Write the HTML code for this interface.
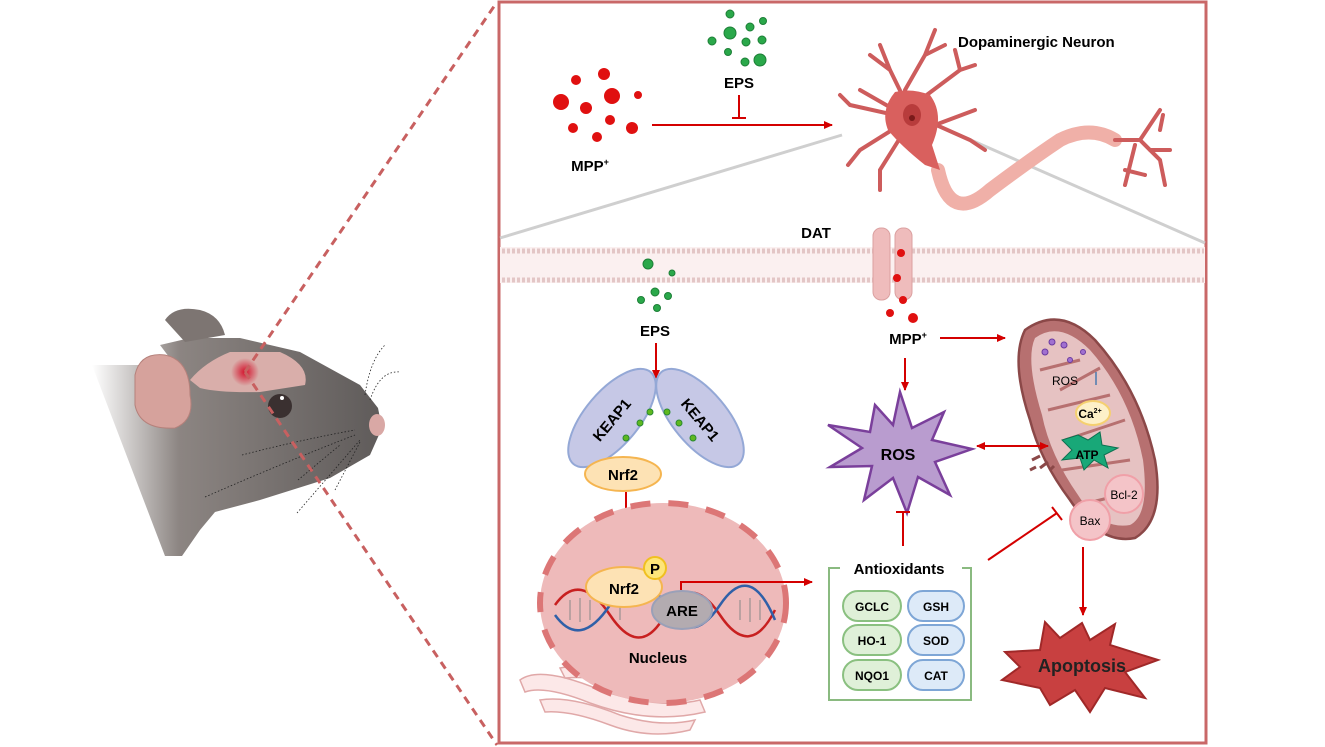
<!DOCTYPE html>
<html><head><meta charset="utf-8"><style>
body{margin:0;background:#fff}
svg{display:block;font-family:"Liberation Sans",Arial,sans-serif;font-weight:bold}
</style></head><body>
<svg width="1325" height="747" viewBox="0 0 1325 747" xmlns="http://www.w3.org/2000/svg">
<defs>
<marker id="ar" markerWidth="10" markerHeight="10" refX="8" refY="5" orient="auto" markerUnits="userSpaceOnUse"><path d="M0,1 L9,5 L0,9 z" fill="#d40000"/></marker>
<marker id="ar2" markerWidth="10" markerHeight="10" refX="1" refY="5" orient="auto" markerUnits="userSpaceOnUse"><path d="M9,1 L0,5 L9,9 z" fill="#d40000"/></marker>
<linearGradient id="fade" x1="0" x2="1" y1="0" y2="0"><stop offset="0" stop-color="#fff"/><stop offset="0.3" stop-color="#8c8582"/><stop offset="1" stop-color="#5f5b5a"/></linearGradient>
<radialGradient id="spot"><stop offset="0" stop-color="#d4102a"/><stop offset="1" stop-color="#d4102a" stop-opacity="0"/></radialGradient>
</defs>

<!-- mouse -->
<path d="M92,365 L175,365 L160,345 L190,338 L240,338 L300,352 L360,385 L378,408 L382,428 L370,455 L330,478 L260,500 L215,512 L200,530 L182,556 L165,556 Z" fill="url(#fade)"/>
<path d="M165,320 Q175,305 200,310 Q220,315 225,335 L185,342 Z" fill="#7d7572"/>
<path d="M135,375 Q140,352 165,355 Q190,360 190,395 Q195,420 175,428 Q140,430 135,405 Z" fill="#d6a29c" stroke="#b5817b"/>
<path d="M190,380 Q205,362 230,352 L280,352 Q310,365 305,385 L260,392 Q220,393 200,388 Z" fill="#d9aeaa"/>
<circle cx="245" cy="372" r="14" fill="url(#spot)"/>
<circle cx="280" cy="406" r="12" fill="#3a3030"/>
<circle cx="282" cy="398" r="2" fill="#fff"/>
<ellipse cx="377" cy="425" rx="8" ry="11" fill="#d9a8a5"/>
<g stroke="#222" stroke-width="0.8" stroke-dasharray="1.5,2" fill="none">
<path d="M242,455 Q300,440 355,430"/><path d="M205,497 Q290,460 355,435"/><path d="M298,480 L340,445"/><path d="M335,490 L360,442"/><path d="M297,513 L360,440"/>
<path d="M365,395 Q370,360 385,345"/><path d="M370,400 Q380,370 400,372"/>
</g>
<g stroke="#c86060" stroke-width="3" stroke-dasharray="8,6">
<line x1="245" y1="372" x2="497" y2="2"/><line x1="245" y1="372" x2="497" y2="745"/>
</g>

<!-- frame -->
<rect x="499" y="2" width="707" height="741" fill="none" stroke="#c96868" stroke-width="3"/>

<!-- gray zoom lines -->
<line x1="500" y1="238" x2="842" y2="135" stroke="#cfcfcf" stroke-width="3"/>
<line x1="930" y1="122" x2="1205" y2="243" stroke="#cfcfcf" stroke-width="3"/>

<!-- membrane -->
<rect x="500" y="247" width="705" height="36" fill="#fbf0f0"/>
<line x1="502" y1="251" x2="1204" y2="251" stroke="#e3c6c6" stroke-width="5" stroke-dasharray="3,2"/>
<line x1="502" y1="280" x2="1204" y2="280" stroke="#e3c6c6" stroke-width="5" stroke-dasharray="3,2"/>

<!-- MPP+ dots -->
<g fill="#e01010">
<circle cx="561" cy="102" r="8"/><circle cx="576" cy="80" r="5"/><circle cx="604" cy="74" r="6"/><circle cx="612" cy="96" r="8"/><circle cx="638" cy="95" r="4"/><circle cx="586" cy="108" r="6"/><circle cx="610" cy="120" r="5"/><circle cx="573" cy="128" r="5"/><circle cx="632" cy="128" r="6"/><circle cx="597" cy="137" r="5"/>
</g>
<text x="590" y="171" font-size="15" text-anchor="middle">MPP<tspan font-size="9" dy="-6">+</tspan></text>
<!-- EPS dots -->
<g fill="#2aa84a" stroke="#1d7f37">
<circle cx="730" cy="14" r="4"/><circle cx="750" cy="27" r="4"/><circle cx="763" cy="21" r="3.5"/><circle cx="730" cy="33" r="6"/><circle cx="712" cy="41" r="4"/><circle cx="746" cy="42" r="4"/><circle cx="762" cy="40" r="4"/><circle cx="728" cy="52" r="3.5"/><circle cx="745" cy="62" r="4"/><circle cx="760" cy="60" r="6"/>
</g>
<text x="739" y="88" font-size="15" text-anchor="middle">EPS</text>
<line x1="739" y1="95" x2="739" y2="118" stroke="#d40000" stroke-width="2"/>
<line x1="732" y1="118" x2="746" y2="118" stroke="#d40000" stroke-width="2"/>
<line x1="652" y1="125" x2="832" y2="125" stroke="#d40000" stroke-width="2" marker-end="url(#ar)"/>

<!-- neuron -->
<g stroke="#cd5c5c" stroke-linecap="round" fill="none">
<path d="M912,115 L890,70 L880,45 M890,70 L870,55 M905,90 L925,55 L935,30 M925,55 L945,45 M920,100 L960,70 L975,65 M960,70 L955,50 M925,120 L970,140 L985,150 M935,125 L975,110 M900,125 L860,150 L848,165 M895,115 L850,105 L840,95 M905,130 L880,170 L880,190 M895,110 L860,90" stroke-width="4"/>
<path d="M938,170 Q950,225 990,190 Q1030,160 1060,140 Q1090,125 1115,140" stroke-width="14" stroke="#f0b0a8"/>
<path d="M1115,140 L1140,140 L1160,110 M1140,140 L1160,160 L1165,185 M1135,145 L1125,185 M1150,150 L1170,150 M1125,170 L1145,175 M1160,130 L1163,115" stroke-width="4"/>
</g>
<path d="M895,92 Q912,88 930,95 Q945,115 932,145 L940,170 L925,165 Q900,145 888,130 Q880,110 895,92Z" fill="#d9605e"/>
<ellipse cx="912" cy="115" rx="9" ry="11" fill="#b83c3c"/>
<circle cx="912" cy="118" r="3" fill="#7a1a1a"/>
<text x="958" y="47" font-size="15">Dopaminergic Neuron</text>

<!-- DAT -->
<text x="816" y="238" font-size="15" text-anchor="middle">DAT</text>
<rect x="873" y="228" width="17" height="72" rx="8" fill="#efbcbc" stroke="#dba0a0"/>
<rect x="895" y="228" width="17" height="72" rx="8" fill="#efbcbc" stroke="#dba0a0"/>
<g fill="#e01010"><circle cx="901" cy="253" r="4"/><circle cx="897" cy="278" r="4"/><circle cx="903" cy="300" r="4"/><circle cx="890" cy="313" r="4"/><circle cx="913" cy="318" r="5"/></g>

<!-- EPS lower -->
<g fill="#2aa84a" stroke="#1d7f37">
<circle cx="648" cy="264" r="5"/><circle cx="672" cy="273" r="3"/><circle cx="655" cy="292" r="4"/><circle cx="668" cy="296" r="3.5"/><circle cx="641" cy="300" r="3.5"/><circle cx="657" cy="308" r="3.5"/>
</g>
<text x="655" y="336" font-size="15" text-anchor="middle">EPS</text>
<line x1="656" y1="343" x2="656" y2="378" stroke="#d40000" stroke-width="2" marker-end="url(#ar)"/>

<!-- KEAP1 -->
<ellipse cx="612" cy="418" rx="60" ry="27" transform="rotate(-50 612 418)" fill="#c6c8e6" stroke="#94a8d6" stroke-width="2"/>
<ellipse cx="700" cy="418" rx="60" ry="27" transform="rotate(50 700 418)" fill="#c6c8e6" stroke="#94a8d6" stroke-width="2"/>
<text font-size="15" transform="translate(612,420) rotate(-50)" text-anchor="middle" dy="5">KEAP1</text>
<text font-size="15" transform="translate(700,420) rotate(50)" text-anchor="middle" dy="5">KEAP1</text>
<g fill="#5fb820" stroke="#2a8a30"><circle cx="650" cy="412" r="3"/><circle cx="667" cy="412" r="3"/><circle cx="640" cy="423" r="3"/><circle cx="679" cy="423" r="3"/><circle cx="626" cy="438" r="3"/><circle cx="693" cy="438" r="3"/></g>
<ellipse cx="623" cy="474" rx="38" ry="17" fill="#fde2b4" stroke="#f5b550" stroke-width="2"/>
<text x="623" y="480" font-size="15" text-anchor="middle">Nrf2</text>
<line x1="626" y1="492" x2="626" y2="556" stroke="#d40000" stroke-width="2" marker-end="url(#ar)"/>

<!-- ER -->
<g fill="#fce8e8" stroke="#e0a8a8" stroke-width="1.5">
<path d="M520,680 Q540,665 600,690 Q660,710 700,700 L705,712 Q650,725 590,703 Q545,685 525,692Z"/>
<path d="M540,700 Q570,695 620,715 Q660,728 695,720 L690,730 Q650,740 610,725 Q570,710 545,712Z"/>
<path d="M560,668 Q600,660 650,680 L645,690 Q600,675 565,678Z"/>
</g>

<!-- nucleus -->
<ellipse cx="663" cy="603" rx="123" ry="100" fill="#eebaba" stroke="#dc7676" stroke-width="6" stroke-dasharray="20,18"/>
<g fill="none" stroke-width="2.5">
<path d="M555,605 Q580,570 610,615 T665,615 T720,615 T775,610" stroke="#c82020"/>
<path d="M555,615 Q580,650 610,605 T665,605 T720,605 T775,620" stroke="#3060a8"/>
</g>
<g stroke="#888" stroke-width="1">
<line x1="570" y1="600" x2="570" y2="620"/><line x1="580" y1="598" x2="580" y2="622"/><line x1="590" y1="600" x2="590" y2="620"/><line x1="620" y1="600" x2="620" y2="620"/><line x1="740" y1="600" x2="740" y2="620"/><line x1="750" y1="598" x2="750" y2="622"/><line x1="760" y1="600" x2="760" y2="620"/></g>
<ellipse cx="624" cy="587" rx="38" ry="20" fill="#fde2b4" stroke="#f5b550" stroke-width="2"/>
<text x="624" y="594" font-size="15" text-anchor="middle">Nrf2</text>
<circle cx="655" cy="568" r="11" fill="#fde57a" stroke="#f0c020" stroke-width="2"/>
<text x="655" y="574" font-size="15" text-anchor="middle">P</text>
<ellipse cx="682" cy="610" rx="30" ry="19" fill="#b3abb0" stroke="#9aa0b8" stroke-width="2"/>
<text x="682" y="616" font-size="15" text-anchor="middle">ARE</text>
<text x="658" y="663" font-size="15" text-anchor="middle">Nucleus</text>
<path d="M681,590 L681,582 L812,582" fill="none" stroke="#d40000" stroke-width="2" marker-end="url(#ar)"/>

<!-- antioxidants -->
<path d="M840,568 L829,568 L829,700 L971,700 L971,568 L962,568" fill="none" stroke="#8aba80" stroke-width="2"/>
<text x="899" y="574" font-size="15" text-anchor="middle">Antioxidants</text>
<g font-size="12" text-anchor="middle">
<rect x="843" y="591" width="58" height="30" rx="15" fill="#dff0d8" stroke="#8ac080" stroke-width="2"/><text x="872" y="611">GCLC</text>
<rect x="908" y="591" width="56" height="30" rx="15" fill="#ddeaf8" stroke="#7ea6d6" stroke-width="2"/><text x="936" y="611">GSH</text>
<rect x="843" y="625" width="58" height="30" rx="15" fill="#dff0d8" stroke="#8ac080" stroke-width="2"/><text x="872" y="645">HO-1</text>
<rect x="908" y="625" width="56" height="30" rx="15" fill="#ddeaf8" stroke="#7ea6d6" stroke-width="2"/><text x="936" y="645">SOD</text>
<rect x="843" y="660" width="58" height="30" rx="15" fill="#dff0d8" stroke="#8ac080" stroke-width="2"/><text x="872" y="680">NQO1</text>
<rect x="908" y="660" width="56" height="30" rx="15" fill="#ddeaf8" stroke="#7ea6d6" stroke-width="2"/><text x="936" y="680">CAT</text>
</g>

<!-- ROS -->
<path d="M900,392 L912,428 L944,412 L932,440 L972,449 L935,462 L950,495 L918,477 L907,513 L893,478 L864,500 L872,466 L830,467 L862,448 L828,425 L870,432 L875,405 L893,425 Z" fill="#b99ccf" stroke="#7a3f9b" stroke-width="2.5"/>
<text x="898" y="460" font-size="16" text-anchor="middle">ROS</text>
<text x="908" y="344" font-size="15" text-anchor="middle">MPP<tspan font-size="9" dy="-6">+</tspan></text>
<line x1="940" y1="338" x2="1005" y2="338" stroke="#d40000" stroke-width="2" marker-end="url(#ar)"/>
<line x1="905" y1="358" x2="905" y2="390" stroke="#d40000" stroke-width="2" marker-end="url(#ar)"/>
<line x1="903" y1="546" x2="903" y2="512" stroke="#d40000" stroke-width="2"/>
<line x1="896" y1="512" x2="910" y2="512" stroke="#d40000" stroke-width="2"/>

<!-- mitochondrion -->
<path d="M1025,330 Q1060,305 1095,340 Q1140,390 1155,460 Q1165,520 1135,538 Q1100,545 1070,500 Q1040,460 1030,420 Q1010,360 1025,330Z" fill="#b77070" stroke="#8b4848" stroke-width="2.5"/>
<path d="M1035,338 Q1060,320 1090,350 Q1130,395 1143,460 Q1150,515 1130,525 Q1100,530 1078,495 Q1050,455 1042,415 Q1025,360 1035,338Z" fill="#e6c2c2"/>
<g fill="none" stroke="#b77070" stroke-width="3"><path d="M1040,370 L1080,360"/><path d="M1100,368 L1060,390"/><path d="M1048,410 L1110,395"/><path d="M1125,420 L1065,440"/><path d="M1062,470 L1130,460"/><path d="M1140,490 L1080,505"/></g>
<g fill="#a070d0" stroke="#6a3aa0"><circle cx="1052" cy="342" r="3"/><circle cx="1064" cy="345" r="3"/><circle cx="1045" cy="352" r="3"/><circle cx="1070" cy="360" r="2.5"/><circle cx="1083" cy="352" r="2.5"/></g>
<text x="1065" y="385" font-size="12" text-anchor="middle" font-weight="normal">ROS</text>
<line x1="1096" y1="385" x2="1096" y2="372" stroke="#4a7ab0" stroke-width="1.5"/>
<ellipse cx="1093" cy="413" rx="17" ry="12" fill="#fdf0c8" stroke="#f5d070" stroke-width="2"/>
<text x="1090" y="418" font-size="12" text-anchor="middle">Ca<tspan font-size="7" dy="-5">2+</tspan></text>
<path d="M1078,435 L1088,440 L1100,432 L1102,445 L1118,448 L1104,455 L1108,468 L1094,460 L1084,470 L1080,458 L1062,460 L1072,450 L1062,440 Z" fill="#18a878" stroke="#0c7050"/>
<text x="1087" y="459" font-size="12" text-anchor="middle">ATP</text>
<g stroke="#8b4848" stroke-width="3"><line x1="1032" y1="460" x2="1040" y2="456"/><line x1="1040" y1="468" x2="1048" y2="462"/><line x1="1030" y1="470" x2="1036" y2="467"/><line x1="1050" y1="470" x2="1054" y2="466"/></g>
<circle cx="1124" cy="494" r="19" fill="#f4c4c8" stroke="#f0a0a8" stroke-width="2"/>
<text x="1124" y="499" font-size="12" text-anchor="middle" font-weight="normal">Bcl-2</text>
<circle cx="1090" cy="520" r="20" fill="#f4c4c8" stroke="#f0a0a8" stroke-width="2"/>
<text x="1090" y="525" font-size="12" text-anchor="middle" font-weight="normal">Bax</text>
<line x1="1083" y1="547" x2="1083" y2="615" stroke="#d40000" stroke-width="2" marker-end="url(#ar)"/>

<!-- arrows over mito -->
<line x1="977" y1="446" x2="1048" y2="446" stroke="#d40000" stroke-width="2" marker-end="url(#ar)" marker-start="url(#ar2)"/>
<line x1="988" y1="560" x2="1057" y2="513" stroke="#d40000" stroke-width="2"/>
<line x1="1052" y1="507" x2="1062" y2="520" stroke="#d40000" stroke-width="2"/>

<!-- Apoptosis -->
<path d="M1045,622 L1060,638 L1082,623 L1090,640 L1115,624 L1110,645 L1158,660 L1125,672 L1145,698 L1105,688 L1090,712 L1075,690 L1050,705 L1040,688 L1002,680 L1020,667 L1005,652 L1040,650 Z" fill="#c84040" stroke="#a02828" stroke-width="2"/>
<text x="1082" y="672" font-size="18" text-anchor="middle" fill="#222">Apoptosis</text>
</svg>
</body></html>
